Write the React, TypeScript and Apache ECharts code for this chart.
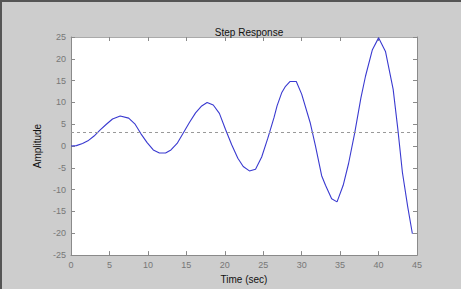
import React, { useEffect, useRef } from "react";
import * as echarts from "echarts";

const timeValues = [0, 0.7, 1.5, 2.2, 3.0, 3.8, 4.6, 5.4, 6.4, 7.5, 8.3, 9.1, 9.9, 10.7, 11.5, 12.3, 13.0, 13.8, 14.6, 15.4, 16.2, 17.0, 17.7, 18.5, 19.3, 20.1, 20.9, 21.7, 22.4, 23.2, 24.0, 24.8, 25.6, 26.4, 26.8, 27.4, 27.9, 28.5, 29.3, 30.0, 31.1, 31.8, 32.6, 33.1, 33.9, 34.6, 35.4, 36.1, 36.9, 37.7, 38.3, 39.2, 40.0, 40.9, 41.9, 42.5, 43.1, 43.8, 44.4];
const amplitudeValues = [0, 0.1, 0.6, 1.2, 2.3, 3.7, 5.0, 6.2, 6.9, 6.4, 5.1, 2.8, 0.8, -0.9, -1.6, -1.6, -0.9, 0.6, 3.0, 5.4, 7.6, 9.2, 10.0, 9.4, 7.5, 3.8, 0.3, -2.8, -4.7, -5.7, -5.3, -2.5, 1.8, 6.5, 9.2, 12.2, 13.7, 14.8, 14.8, 11.9, 5.4, 0, -6.8, -9.0, -12.1, -12.8, -9.0, -4.0, 3.0, 11.0, 16.0, 22.1, 24.8, 21.7, 13.0, 4.0, -6.0, -14.0, -20.1];
const finalValue = 3.1;
const xTicks = { min: 0, max: 45, interval: 5 };
const yTicks = { min: -25, max: 25, interval: 5 };

export default function App() {
  const ref = useRef<HTMLDivElement>(null);
  useEffect(() => {
    if (!ref.current) return;
    const chart = echarts.init(ref.current, null, { renderer: "svg" });
    const data = timeValues.map((t, i) => [t, amplitudeValues[i]]);
    const font = "Liberation Sans, Arial, sans-serif";
    const axisCommon = {
      axisLine: { show: true, onZero: false, lineStyle: { color: "#8a8a8a", width: 1 } },
      axisTick: { show: true, inside: true, length: 4, lineStyle: { color: "#8a8a8a" } },
      splitLine: { show: false },
    };
    chart.setOption({
      animation: false,
      backgroundColor: "#cdcdcd",
      title: {
        text: "Step Response",
        left: 244,
        top: 22,
        textAlign: "center",
        textStyle: { fontSize: 10, fontWeight: "normal", color: "#111", fontFamily: font },
      },
      grid: { left: 71, right: 44, top: 37, bottom: 32, show: true, backgroundColor: "#ffffff", borderWidth: 0 },
      xAxis: [
        {
          type: "value",
          ...xTicks,
          position: "bottom",
          name: "Time (sec)",
          nameLocation: "middle",
          nameGap: 18,
          nameTextStyle: { fontSize: 10, color: "#111", fontFamily: font },
          ...axisCommon,
          axisLabel: { fontSize: 9, color: "#777", margin: 5, fontFamily: font },
        },
        {
          type: "value",
          ...xTicks,
          position: "top",
          ...axisCommon,
          axisLine: { show: true, onZero: false, lineStyle: { color: "#aaaaaa", width: 1 } },
          axisLabel: { show: false },
        },
      ],
      yAxis: [
        {
          type: "value",
          ...yTicks,
          position: "left",
          name: "Amplitude",
          nameLocation: "middle",
          nameGap: 26,
          nameRotate: 90,
          nameTextStyle: { fontSize: 10, color: "#111", fontFamily: font },
          ...axisCommon,
          axisLabel: { fontSize: 9, color: "#777", margin: 5, fontFamily: font },
        },
        {
          type: "value",
          ...yTicks,
          position: "right",
          ...axisCommon,
          axisLabel: { show: false },
        },
      ],
      series: [
        {
          type: "line",
          data,
          showSymbol: false,
          lineStyle: { color: "#3a3ad0", width: 1.1 },
          markLine: {
            silent: true,
            symbol: "none",
            label: { show: false },
            lineStyle: { color: "#999", type: [3, 3], width: 1 },
            data: [{ yAxis: finalValue }],
          },
        },
      ],
      graphic: [
        { type: "rect", shape: { x: 0, y: 0, width: 461, height: 2 }, style: { fill: "#555" } },
        { type: "rect", shape: { x: 0, y: 0, width: 2, height: 289 }, style: { fill: "#555" } },
      ],
    });
    return () => chart.dispose();
  }, []);
  return <div ref={ref} style={{ position: "absolute", left: 0, top: 0, width: 461, height: 289 }} />;
}
